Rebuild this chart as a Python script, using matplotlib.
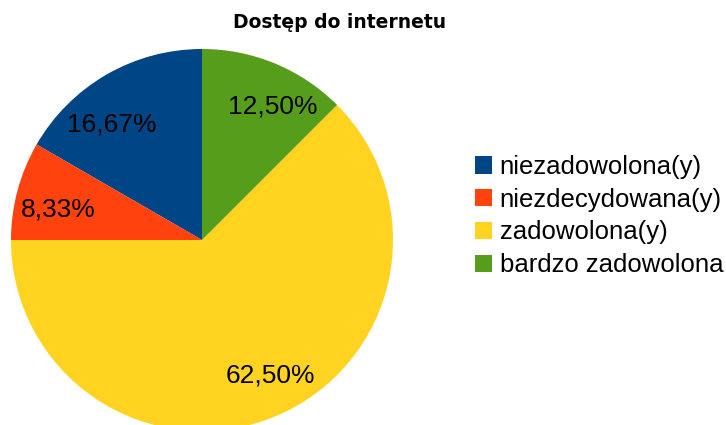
import numpy as np
import matplotlib
matplotlib.use("Agg")
import matplotlib.pyplot as plt

categories = ["niezadowolona(y)", "niezdecydowana(y)", "zadowolona(y)", "bardzo zadowolona"]
counts = [4, 2, 15, 3]
colors = ["#004586", "#ff420e", "#ffd320", "#579d1c"]
title = "Dostęp do internetu"

W, H = 726, 425
fig = plt.figure(figsize=(W / 100, H / 100), dpi=100)
ax = fig.add_axes([0, 0, 1, 1])

cx, cy, r = 202, H - 240, 191

wedges, texts, autotexts = ax.pie(
    counts, colors=colors, startangle=90, counterclock=True,
    center=(cx, cy), radius=r, frame=True,
    autopct=lambda p: f"{p:.2f}%".replace(".", ","),
    pctdistance=0.78,
    textprops=dict(family="Liberation Sans", fontsize=19, color="black"),
    wedgeprops=dict(linewidth=0),
)
ax.set_xlim(0, W)
ax.set_ylim(0, H)
ax.set_aspect("equal")
ax.axis("off")

# label placement (angle in degrees, distance as fraction of radius)
label_place = [(128, 0.765), (168, 0.77), (296.6, 0.795), (61.9, 0.79)]
for t, (ang, d) in zip(autotexts, label_place):
    a = np.deg2rad(ang)
    t.set_position((cx + d * r * np.cos(a), cy + d * r * np.sin(a)))
    t.set_ha("center")
    t.set_va("center")

fig.text(340 / W, 1 - 23 / H, title, ha="center", va="center",
         family="DejaVu Sans", fontweight="bold", fontsize=13.5)

fig.legend(wedges, categories, loc="upper left",
           bbox_to_anchor=(475 / W, 1 - 155 / H),
           frameon=False, prop=dict(family="Liberation Sans", size=18.5),
           handlelength=0.66, handleheight=0.66, handletextpad=0.3,
           labelspacing=0.34, borderpad=0, borderaxespad=0)

fig.savefig("out.png", dpi=100)
